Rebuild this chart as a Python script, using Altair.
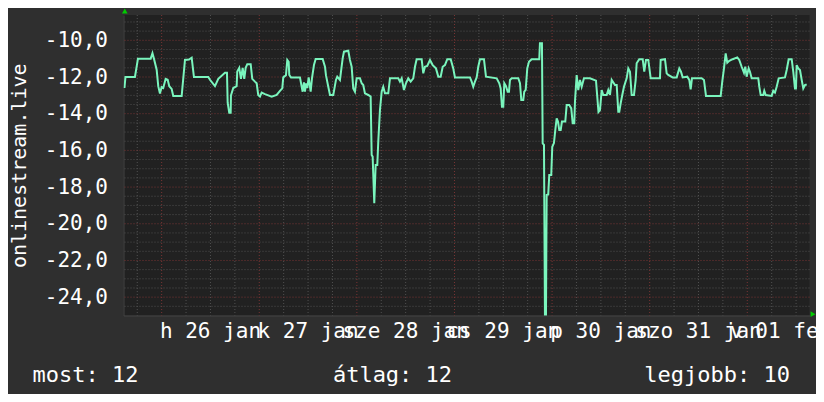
import altair as alt
import pandas as pd

# ---- data (hours after 2015-01-26 00:00, value) ----
hours = [-9.15, -8.90, -6.57, -5.83, -2.70, -2.26, -1.89, -1.23, -0.84, -0.42,
         0.00, 0.39, 0.98, 1.48, 1.87, 2.46, 2.85, 4.92, 5.73, 6.71,
         7.38, 7.94, 11.46, 11.88, 13.11, 13.92, 15.57, 16.06, 16.23, 16.62,
         16.97, 17.04, 17.61, 18.44, 18.59, 19.08, 19.50, 19.92, 20.31, 20.66,
         21.05, 21.89, 22.28, 22.94, 23.36, 23.75, 24.17, 24.59, 25.40, 26.21,
         27.05, 28.28, 29.09, 29.66, 29.90, 30.57, 30.89, 31.23, 31.38, 31.80,
         34.01, 34.43, 34.67, 34.99, 35.24, 35.48, 35.80, 36.15, 36.64, 36.96,
         37.45, 37.87, 39.59, 40.16, 40.40, 40.97, 41.39, 42.20, 42.86, 43.18,
         43.84, 44.51, 44.83, 45.89, 46.30, 46.72, 47.11, 47.53, 47.95, 48.76,
         49.18, 49.57, 49.99, 50.80, 51.39, 51.64, 51.88, 52.28, 52.62, 53.02,
         53.26, 53.68, 54.10, 54.49, 54.91, 55.72, 56.14, 58.18, 58.60, 59.02,
         59.58, 60.07, 60.64, 61.23, 61.87, 62.29, 62.70, 63.93, 64.33, 64.74,
         65.31, 65.98, 66.64, 67.45, 68.02, 68.61, 69.10, 69.66, 70.23, 71.07,
         71.70, 72.12, 75.81, 76.23, 76.62, 77.04, 77.46, 77.85, 78.27, 79.25,
         79.75, 82.38, 83.02, 83.36, 83.68, 84.00, 84.25, 84.67, 85.08, 85.40,
         85.65, 86.06, 87.69, 88.11, 88.43, 88.92, 89.16, 89.51, 89.90, 90.32,
         90.98, 92.85, 93.02, 93.51, 93.69, 94.01, 94.25, 94.50, 94.67, 95.06,
         95.31, 95.80, 96.05, 96.46, 96.79, 97.13, 97.45, 97.77, 98.12, 98.43,
         99.25, 99.59, 100.23, 100.72, 101.07, 101.46, 101.63, 102.05, 102.44, 102.86,
         103.28, 103.84, 105.32, 106.80, 107.41, 107.78, 108.20, 108.59, 109.43, 109.82,
         110.24, 110.66, 111.47, 111.89, 112.28, 112.53, 112.87, 113.26, 113.68, 114.34,
         114.74, 115.16, 115.57, 116.14, 116.56, 116.80, 117.44, 118.28, 118.67, 119.09,
         119.66, 120.25, 122.53, 122.70, 123.76, 124.18, 124.57, 125.65, 126.64, 127.28,
         127.70, 128.11, 129.24, 129.74, 130.08, 130.40, 132.79, 133.35, 133.85, 137.46,
         137.85, 138.27, 138.69, 139.08, 139.57, 140.41, 141.54, 142.03, 142.62, 143.19,
         143.51, 143.85, 144.34, 144.66, 145.08, 146.71, 146.95, 147.30, 147.93, 148.18,
         148.53, 150.00, 150.39, 150.81, 151.23, 151.72, 153.27, 153.69, 154.18, 154.92,
         155.31, 155.73, 155.97, 156.15, 156.54, 156.96, 157.38, 157.77, 158.19, 158.61]

values = [-12.60, -12.00, -12.00, -11.00, -11.00, -10.70, -11.00, -11.60, -12.50, -12.90,
          -12.55, -12.60, -12.10, -12.15, -12.50, -12.65, -13.03, -13.03, -11.07, -11.05,
          -10.95, -12.00, -12.00, -12.15, -12.50, -12.10, -11.77, -11.77, -13.40, -13.95,
          -13.95, -13.00, -12.60, -12.50, -11.70, -11.50, -12.10, -11.50, -12.10, -11.50,
          -11.30, -11.30, -12.10, -12.25, -12.34, -12.98, -13.07, -12.85, -12.93, -13.00,
          -13.07, -12.98, -12.76, -12.62, -12.02, -11.90, -11.07, -11.17, -11.89, -12.02,
          -12.02, -12.53, -12.80, -12.29, -12.80, -12.35, -12.60, -12.02, -12.80, -12.07,
          -11.35, -11.02, -11.02, -11.44, -11.90, -12.53, -12.98, -12.98, -12.16, -11.98,
          -12.16, -10.98, -10.62, -10.57, -11.07, -11.44, -12.62, -12.80, -12.07, -12.07,
          -12.34, -12.44, -12.89, -12.98, -13.07, -16.25, -16.34, -18.88, -16.80, -16.80,
          -15.53, -13.80, -12.80, -12.53, -12.89, -12.89, -12.07, -12.07, -12.25, -12.07,
          -12.71, -12.34, -12.07, -12.25, -12.07, -11.44, -11.03, -11.03, -11.80, -11.44,
          -11.40, -11.07, -11.35, -11.53, -11.98, -11.98, -11.44, -11.35, -11.03, -11.03,
          -11.53, -12.02, -12.02, -12.25, -12.53, -12.25, -12.02, -11.44, -11.03, -11.03,
          -11.98, -12.07, -12.34, -12.62, -13.62, -13.62, -12.34, -12.50, -12.80, -12.80,
          -12.16, -12.07, -12.07, -12.34, -13.25, -13.25, -12.80, -12.70, -11.53, -11.17,
          -11.03, -11.03, -10.16, -10.16, -15.62, -15.70, -24.97, -24.97, -18.43, -18.40,
          -17.34, -17.34, -15.80, -15.60, -14.89, -14.25, -14.43, -14.89, -14.89, -14.43,
          -14.43, -13.53, -13.53, -13.71, -14.52, -14.52, -13.35, -11.89, -12.71, -12.16,
          -12.53, -12.07, -12.07, -12.20, -13.90, -13.80, -12.71, -12.98, -12.98, -12.71,
          -12.98, -12.16, -12.44, -12.44, -13.89, -13.89, -13.43, -12.98, -12.53, -12.07,
          -11.53, -11.71, -12.98, -12.98, -12.16, -11.25, -11.03, -11.03, -11.71, -11.07,
          -11.07, -12.07, -12.07, -11.07, -11.03, -11.80, -11.89, -12.02, -12.02, -11.53,
          -11.71, -12.02, -11.98, -12.16, -12.67, -12.07, -12.07, -12.16, -13.03, -13.03,
          -12.25, -11.53, -10.71, -11.22, -11.12, -11.03, -10.93, -11.07, -11.44, -11.77,
          -11.44, -11.98, -11.53, -11.71, -12.07, -12.07, -12.53, -12.98, -12.98, -12.75,
          -12.98, -13.03, -12.75, -12.85, -12.53, -12.07, -12.02, -11.62, -11.03, -11.03,
          -11.71, -12.62, -12.62, -11.35, -11.53, -11.62, -12.16, -12.62, -12.44, -12.40]

x_label_text = ["h 26 jan", "k 27 jan", "sze 28 jan", "cs 29 jan",
                "p 30 jan", "szo 31 jan", "v 01 feb"]
x_label_hours = [12, 36, 60, 84, 108, 132, 152.2]
y_tick_values = [-24, -22, -20, -18, -16, -14, -12, -10]
minor_h_values = [v / 2 for v in range(-49, -17) if v % 4 != 0]
major_h_values = y_tick_values
minor_v_hours = [h for h in range(-6, 157, 6) if h % 24 != 0]
major_v_hours = [0, 24, 48, 72, 96, 120, 144]
legend_left = "most: 12"
legend_mid = "átlag: 12"
legend_right = "legjobb: 10"
axis_title = "onlinestream.live"

# ---- build tables ----
base = pd.Timestamp("2015-01-26 00:00")
def to_time(hs):
    return base + pd.to_timedelta(hs, unit="h")

df = pd.DataFrame({"t": to_time(hours), "v": values})
df_labels = pd.DataFrame({"t": to_time(x_label_hours), "label": x_label_text})
df_vminor = pd.DataFrame({"t": to_time(minor_v_hours)})
df_vmajor = pd.DataFrame({"t": to_time(major_v_hours)})
df_hminor = pd.DataFrame({"v": minor_h_values})
df_hmajor = pd.DataFrame({"v": major_h_values})

FONT = "DejaVu Sans Mono"
TXT = "#ffffff"
LINE = "#7af5bd"
x_scale = alt.Scale(domain=[alt.DateTime(year=2015, month=1, date=25, hours=14, minutes=37),
                            alt.DateTime(year=2015, month=2, date=1, hours=15, minutes=18)],
                    nice=False)
y_scale = alt.Scale(domain=[-25.0, -8.62], nice=False, zero=False)

x_axis = alt.Axis(labels=False, ticks=False, grid=False, title=None,
                  domain=True, domainColor="#444444")
y_axis = alt.Axis(values=y_tick_values,
                  labelExpr="replace(replace(format(datum.value, '.1f'), '.', ','), '\u2212', '-')",
                  labelFont=FONT, labelFontSize=21, labelColor=TXT,
                  labelPadding=16, ticks=False, grid=False,
                  domain=True, domainColor="#444444",
                  title=axis_title, titleFont=FONT, titleFontSize=20,
                  titleFontWeight="normal", titleColor=TXT,
                  titleAngle=270, titleAlign="center", titleBaseline="alphabetic",
                  titleX=-98.5, titleY=150.25)

X = alt.X("t:T", scale=x_scale, axis=x_axis)
Y = alt.Y("v:Q", scale=y_scale, axis=y_axis)

vminor = alt.Chart(df_vminor).mark_rule(color="#505050", strokeDash=[1, 2], strokeWidth=1).encode(x=X)
vmajor = alt.Chart(df_vmajor).mark_rule(color="#7a3434", strokeDash=[1, 2], strokeWidth=1).encode(x=X)
hminor = alt.Chart(df_hminor).mark_rule(color="#505050", strokeDash=[1, 2], strokeWidth=1).encode(y=Y)
hmajor = alt.Chart(df_hmajor).mark_rule(color="#7a3434", strokeDash=[1, 2], strokeWidth=1).encode(y=Y)

line = alt.Chart(df).mark_line(color=LINE, strokeWidth=2, clip=True).encode(x=X, y=Y)

xlabels = alt.Chart(df_labels).mark_text(font=FONT, fontSize=21, color=TXT,
                                         align="center", baseline="alphabetic").encode(
    x=X, y=alt.value(323.3), text="label:N")

def legend_text(txt, xpos, align):
    return alt.Chart(pd.DataFrame({"s": [txt]})).mark_text(
        font=FONT, fontSize=22, color=TXT, align=align, baseline="middle").encode(
        x=alt.value(xpos), y=alt.value(360), text="s:N")

leg1 = legend_text(legend_left, -91, "left")
leg2 = legend_text(legend_mid, 269, "center")
leg3 = legend_text(legend_right, 666.5, "right")

arrow_up = alt.Chart(pd.DataFrame({"a": [0]})).mark_point(
    shape="triangle-up", filled=True, color="#00cc00", opacity=1, size=32).encode(
    x=alt.value(1.3), y=alt.value(-4))
arrow_right = alt.Chart(pd.DataFrame({"a": [0]})).mark_point(
    shape="triangle-right", filled=True, color="#00cc00", opacity=1, size=32).encode(
    x=alt.value(689.5), y=alt.value(299.2))

chart = alt.layer(vminor, vmajor, hminor, hmajor, line,
                  xlabels, leg1, leg2, leg3, arrow_up, arrow_right).properties(
    width=686, height=300.5,
    autosize="none",
    padding={"left": 115.5, "top": 7, "right": 6.5, "bottom": 78.5},
    background="#2f2f2f",
).configure_view(fill="#212121", stroke=None)

chart.save("out.html", embed_options={"renderer": "svg", "actions": False})
